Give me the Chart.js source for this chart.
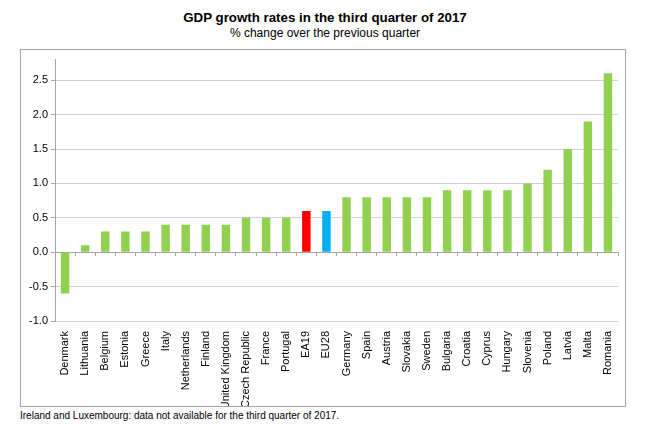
<!DOCTYPE html>
<html>
<head>
<meta charset="utf-8">
<script src="https://cdn.jsdelivr.net/npm/chart.js@4"></script>
<style>
  body { margin: 0; width: 650px; height: 429px; background: #fff; font-family: "Liberation Sans", Arial, sans-serif; position: relative; overflow: hidden; }
  #titre { position: absolute; top: 10px; left: 0; width: 650px; text-align: center; font-weight: bold; font-size: 13.3px; color: #000; }
  #sous { position: absolute; top: 26px; left: 0; width: 650px; text-align: center; font-size: 12px; color: #000; }
  #boite { position: absolute; left: 20px; top: 49px; width: 604px; height: 356px; border: 1px solid #a6a6a6; }
  #note { position: absolute; left: 20px; top: 410px; font-size: 10px; color: #000; }
</style>
</head>
<body>
<div id="titre">GDP growth rates in the third quarter of 2017</div>
<div id="sous">% change over the previous quarter</div>
<div id="boite"><canvas id="graficoPib" width="604" height="356"></canvas></div>
<div id="note">Ireland and Luxembourg: data not available for the third quarter of 2017.</div>
<script>
// Dados
const paises = ['Denmark', 'Lithuania', 'Belgium', 'Estonia', 'Greece', 'Italy', 'Netherlands', 'Finland',
    'United Kingdom', 'Czech Republic', 'France', 'Portugal', 'EA19', 'EU28', 'Germany', 'Spain', 'Austria',
    'Slovakia', 'Sweden', 'Bulgaria', 'Croatia', 'Cyprus', 'Hungary', 'Slovenia', 'Poland', 'Latvia', 'Malta', 'Romania'];
const crescimento = [-0.6, 0.1, 0.3, 0.3, 0.3, 0.4, 0.4, 0.4, 0.4, 0.5, 0.5, 0.5, 0.6, 0.6, 0.8, 0.8, 0.8,
    0.8, 0.8, 0.9, 0.9, 0.9, 0.9, 1.0, 1.2, 1.5, 1.9, 2.6];
const ticksY = [-1.0, -0.5, 0.0, 0.5, 1.0, 1.5, 2.0, 2.5];

const cores = { verde: '#92d050', vermelho: '#ff0000', azul: '#00b0f0' };
const coresBarras = paises.map(p => {
    if (p === 'EA19') return cores.vermelho;
    if (p === 'EU28') return cores.azul;
    return cores.verde;
});

const fonte = { family: '"Liberation Sans", Arial, sans-serif', size: 11 };

new Chart(document.getElementById('graficoPib').getContext('2d'), {
    type: 'bar',
    data: {
        labels: paises,
        datasets: [{
            data: crescimento,
            backgroundColor: coresBarras,
            borderWidth: 0,
            barPercentage: 0.42,
            categoryPercentage: 1.0,
            xAxisID: 'x'
        }]
    },
    options: {
        responsive: false,
        animation: false,
        events: [],
        layout: { padding: { top: 5, right: 7, left: 0, bottom: 0 } },
        plugins: { legend: { display: false }, tooltip: { enabled: false } },
        scales: {
            x: {
                position: 'bottom',
                afterFit: s => { s.height = 85; },
                grid: { display: false },
                border: { display: false },
                ticks: { color: '#000', font: fonte, minRotation: 90, maxRotation: 90, autoSkip: false, padding: 2 }
            },
            x0: {
                type: 'category',
                labels: paises,
                position: { y: 0 },
                offset: true,
                grid: { offset: true, drawOnChartArea: false, drawTicks: true, tickLength: 3, color: '#a6a6a6' },
                border: { display: true, color: '#a6a6a6' },
                ticks: { display: false }
            },
            y: {
                min: -1,
                max: 2.8,
                afterBuildTicks: s => { s.ticks = ticksY.map(v => ({ value: v })); },
                afterFit: s => { s.width = 34; },
                grid: { color: '#d0d0d0', tickLength: 4, tickColor: '#a6a6a6' },
                border: { color: '#a6a6a6' },
                ticks: { color: '#000', font: fonte, padding: 3, callback: v => v.toFixed(1) }
            }
        }
    }
});
</script>
</body>
</html>
